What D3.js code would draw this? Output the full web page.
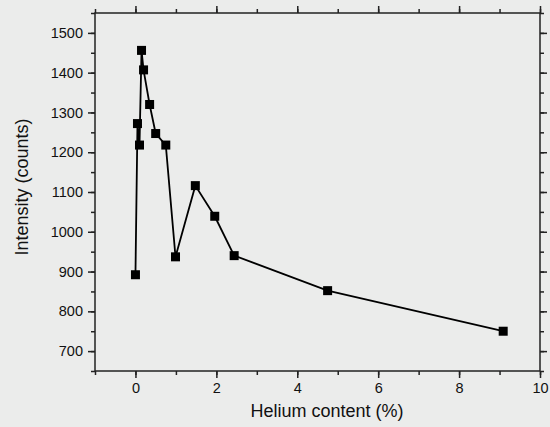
<!DOCTYPE html>
<html>
<head>
<script src="https://d3js.org/d3.v7.min.js"></script>
<style>
  body { margin: 0; background: #ebeceb; }
  svg { display: block; font-family: "Liberation Sans", Arial, sans-serif; }
</style>
</head>
<body>
<svg width="550" height="427"></svg>
<script>
// helium content (%) and measured intensity (counts)
var helium    = [0, 0.05, 0.1, 0.15, 0.2, 0.35, 0.5, 0.75, 0.99, 1.48, 1.96, 2.44, 4.75, 9.09];
var intensity = [892, 1272, 1218, 1456, 1407, 1320, 1247, 1218, 937, 1116, 1039, 940, 852, 750];
var xTicks = [0, 2, 4, 6, 8, 10];
var yTicks = [700, 800, 900, 1000, 1100, 1200, 1300, 1400, 1500];

var data = helium.map(function(h, i){ return {x: h, y: intensity[i]}; });

var svg = d3.select("svg");
var L = 95, R = 540, T = 13, B = 371;

var x = d3.scaleLinear().domain([-1, 10]).range([L, R]);
var y = d3.scaleLinear().domain([650, 1550]).range([B, T]);

var axisColor = "#222";

// minor ticks every 1 (x) and 50 (y)
var xMinor = d3.range(-1, 10.01, 1);
var yMinor = d3.range(650, 1551, 50);

function styleAxis(g) {
  g.select(".domain").remove();
  g.selectAll("line").attr("stroke", axisColor).attr("stroke-width", 1.5);
  g.selectAll("text").attr("fill", "#111").style("font-size", "14.5px");
}

// bottom
svg.append("g").attr("transform", "translate(0," + B + ")")
  .call(d3.axisBottom(x).tickValues(xMinor).tickSize(4).tickFormat(""))
  .call(styleAxis);
svg.append("g").attr("transform", "translate(0," + B + ")")
  .call(d3.axisBottom(x).tickValues(xTicks).tickSize(7).tickPadding(5).tickFormat(d3.format("d")))
  .call(styleAxis);
// top
svg.append("g").attr("transform", "translate(0," + T + ")")
  .call(d3.axisTop(x).tickValues(xMinor).tickSize(4).tickFormat(""))
  .call(styleAxis);
svg.append("g").attr("transform", "translate(0," + T + ")")
  .call(d3.axisTop(x).tickValues(xTicks).tickSize(7).tickFormat(""))
  .call(styleAxis);
// left
svg.append("g").attr("transform", "translate(" + L + ",0)")
  .call(d3.axisLeft(y).tickValues(yMinor).tickSize(4).tickFormat(""))
  .call(styleAxis);
svg.append("g").attr("transform", "translate(" + L + ",0)")
  .call(d3.axisLeft(y).tickValues(yTicks).tickSize(7).tickPadding(5).tickFormat(d3.format("d")))
  .call(styleAxis);
// right
svg.append("g").attr("transform", "translate(" + R + ",0)")
  .call(d3.axisRight(y).tickValues(yMinor).tickSize(4).tickFormat(""))
  .call(styleAxis);
svg.append("g").attr("transform", "translate(" + R + ",0)")
  .call(d3.axisRight(y).tickValues(yTicks).tickSize(7).tickFormat(""))
  .call(styleAxis);

// frame
svg.append("rect")
  .attr("x", L).attr("y", T)
  .attr("width", R - L).attr("height", B - T)
  .attr("fill", "none").attr("stroke", axisColor).attr("stroke-width", 1.5);

// line
var line = d3.line().x(function(d){ return x(d.x); }).y(function(d){ return y(d.y); });
svg.append("path").datum(data)
  .attr("d", line)
  .attr("fill", "none").attr("stroke", "#000").attr("stroke-width", 1.8);

// square markers
var s = 9;
svg.selectAll("rect.pt").data(data).join("rect")
  .attr("class", "pt")
  .attr("x", function(d){ return x(d.x) - s / 2; })
  .attr("y", function(d){ return y(d.y) - s / 2; })
  .attr("width", s).attr("height", s)
  .attr("fill", "#000");

// axis titles
svg.append("text")
  .attr("x", 327).attr("y", 417)
  .attr("text-anchor", "middle")
  .style("font-size", "18px").attr("fill", "#111")
  .text("Helium content (%)");

svg.append("text")
  .attr("transform", "translate(28,187) rotate(-90)")
  .attr("text-anchor", "middle")
  .style("font-size", "18px").attr("fill", "#111")
  .text("Intensity (counts)");
</script>
</body>
</html>
